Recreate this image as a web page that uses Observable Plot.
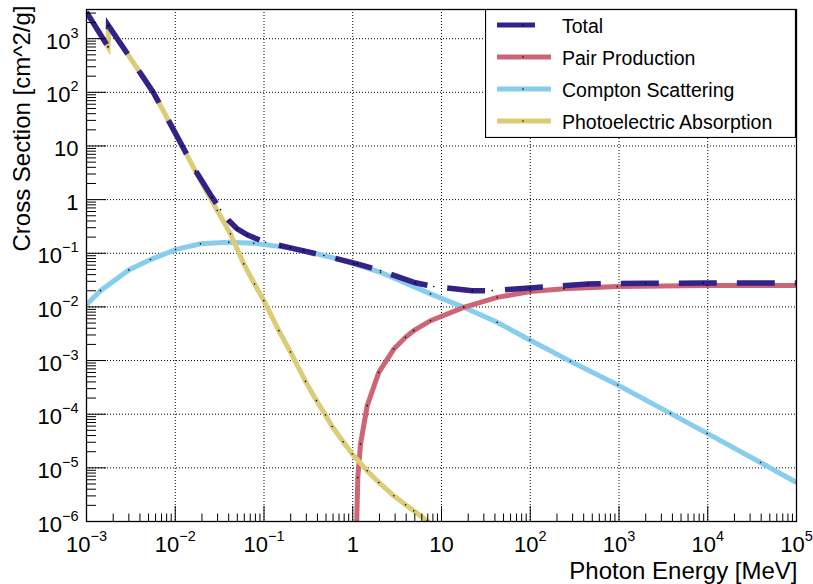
<!DOCTYPE html>
<html><head><meta charset="utf-8">
<script src="https://cdn.jsdelivr.net/npm/d3@7"></script>
<script src="https://cdn.jsdelivr.net/npm/@observablehq/plot@0.6"></script>
<style>
body{margin:0;background:#fff;}
#wrap{position:relative;width:813px;height:584px;font-family:"Liberation Sans",Arial,Helvetica,sans-serif;}
#legend{position:absolute;left:485px;top:9px;}
</style></head><body><div id="wrap"></div>
<script>
// ---- data (photon energy in MeV, cross section in cm^2/g) ----
const photoE = [1e-3, 1.75e-3, 1.77e-3, 5.64e-3, 1.2e-2, 1.69e-2, 2.97e-2, 4.19e-2, 5.92e-2, 7.82e-2, 0.0996, 0.147, 0.199, 0.2935, 0.39, 0.493, 0.586, 0.78, 0.986, 1.455, 1.966, 2.90, 3.93, 4.87, 6.90, 8.5];
const photoS = [3130, 700, 1750, 101, 9.9, 3.36, 0.627, 0.230, 0.0634, 0.0268, 0.0131, 3.61e-3, 1.44e-3, 4.09e-4, 1.79e-4, 9.66e-5, 5.91e-5, 3.07e-5, 1.81e-5, 8.83e-6, 5.34e-6, 3.02e-6, 2.05e-6, 1.58e-6, 1.03e-6, 7.2e-7];

const comptonE = [1e-3, 1.438e-3, 3.0e-3, 5.26e-3, 1.007e-2, 1.925e-2, 4.01e-2, 7.67e-2, 0.1535, 0.2806, 0.668, 1.028, 2.055, 7.52, 17.8, 42.4, 98.9, 284, 969, 3802, 9860, 39300, 1e5];
const comptonS = [0.0110, 0.0201, 0.049, 0.0763, 0.117, 0.150, 0.160, 0.154, 0.133, 0.112, 0.0786, 0.0634, 0.0442, 0.01748, 9.83e-3, 5.16e-3, 2.42e-3, 9.66e-4, 3.51e-4, 1.035e-4, 4.39e-5, 1.26e-5, 5.34e-6];

const pairE = [1.09, 1.14, 1.223, 1.455, 1.966, 2.90, 3.93, 4.87, 7.52, 17.8, 42.4, 100.7, 239, 955, 9860, 1e5];
const pairS = [3e-7, 6.62e-6, 2.78e-5, 1.44e-4, 6.03e-4, 1.64e-3, 2.71e-3, 3.61e-3, 5.54e-3, 9.83e-3, 0.0151, 0.0193, 0.0217, 0.0239, 0.02496, 0.0250];

const totalE = [1e-3, 1.75e-3, 1.77e-3, 5.64e-3, 1.2e-2, 0.0169, 0.0261, 0.0324, 0.0401, 0.0499, 0.0647, 0.104, 0.199, 0.472, 1.122, 2.055, 5.09, 8.19, 22.2, 37.3, 98.9, 445, 1990, 8890, 1e5];
const totalS = [3130, 710, 1750, 101, 10.0, 3.49, 1.1, 0.65, 0.407, 0.285, 0.220, 0.160, 0.126, 0.0906, 0.0634, 0.0475, 0.0282, 0.0239, 0.0201, 0.0201, 0.0226, 0.0268, 0.0275, 0.0278, 0.0278];

const seriesNames = ["Total", "Pair Production", "Compton Scattering", "Photoelectric Absorption"];
const seriesColors = ["#332288", "#CC6677", "#88CCEE", "#DDCC77"];

const xTickValues = [1e-3, 1e-2, 1e-1, 1, 10, 1e2, 1e3, 1e4, 1e5];
const xTickLabels = ["10^\u22123", "10^\u22122", "10^\u22121", "1", "10", "10^2", "10^3", "10^4", "10^5"];
const yTickValues = [1e-6, 1e-5, 1e-4, 1e-3, 1e-2, 1e-1, 1, 10, 1e2, 1e3];
const yTickLabels = ["10^\u22126", "10^\u22125", "10^\u22124", "10^\u22123", "10^\u22122", "10^\u22121", "1", "10", "10^2", "10^3"];
const xTitle = "Photon Energy [MeV]";
const yTitle = "Cross Section [cm^2/g]";

// ---- build ----
const rows = (E, S) => E.map((e, i) => ({E: e, s: S[i]}));
const total = rows(totalE, totalS), pair = rows(pairE, pairS),
      compton = rows(comptonE, comptonS), photo = rows(photoE, photoS);

const W = 813, H = 584, mL = 86, mR = 17, mT = 9, mB = 63;
const pw = W - mL - mR, ph = H - mT - mB;
const xDomain = [1e-3, 1e5], yDomain = [1e-6, 3500];

const minors = (lo, hi) => {
  const out = [];
  for (let d = Math.log10(lo); d < Math.log10(hi); d++)
    for (let k = 2; k <= 9; k++) { const v = k * Math.pow(10, d); if (v < hi) out.push(v); }
  return out;
};
const xMinor = minors(xDomain[0], xDomain[1]);
const yMinor = minors(yDomain[0], yDomain[1]);

const lineOpts = (color, extra = {}) => ({x: "E", y: "s", stroke: color, strokeWidth: 5, clip: true,
  strokeLinejoin: "miter", strokeLinecap: "butt", strokeMiterlimit: 10, ...extra});
const dotOpts = {x: "E", y: "s", r: 0.8, fill: "#000", clip: true};
const gridOpts = {stroke: "#000", strokeOpacity: 1, strokeWidth: 1, strokeDasharray: "1,2"};

const svg = Plot.plot({
  width: W, height: H,
  marginLeft: mL, marginRight: mR, marginTop: mT, marginBottom: mB,
  style: {fontFamily: '"Liberation Sans", Arial, Helvetica, sans-serif', fontSize: "22px", color: "#000", background: "#fff"},
  x: {type: "log", domain: xDomain, label: null},
  y: {type: "log", domain: yDomain, label: null},
  marks: [
    Plot.gridX(xTickValues, gridOpts),
    Plot.gridY(yTickValues, gridOpts),
    Plot.line(compton, lineOpts(seriesColors[2])),
    Plot.line(pair, lineOpts(seriesColors[1])),
    Plot.line(photo, lineOpts(seriesColors[3])),
    Plot.line(total, lineOpts(seriesColors[0], {strokeWidth: 5.5, strokeDasharray: "38,20"})),
    Plot.dot(compton, dotOpts),
    Plot.dot(pair, dotOpts),
    Plot.dot(photo, dotOpts),
    Plot.dot(total, dotOpts),
    Plot.tickX(xMinor, {stroke: "#000", insetTop: ph - 7.5}),
    Plot.tickX(xTickValues, {stroke: "#000", insetTop: ph - 15}),
    Plot.tickY(yMinor, {stroke: "#000", insetRight: pw - 10}),
    Plot.tickY(yTickValues, {stroke: "#000", insetRight: pw - 20}),
    Plot.frame({stroke: "#000", strokeWidth: 1.3}),
    Plot.axisX(xTickValues, {tickSize: 0, tickPadding: 15, fontSize: 22, label: null,
      tickFormat: d => xTickLabels[xTickValues.indexOf(d)]}),
    Plot.axisY(yTickValues, {tickSize: 0, tickPadding: 8, fontSize: 22, label: null, dy: 3,
      tickFormat: d => yTickLabels[yTickValues.indexOf(d)]}),
    Plot.text([xTitle], {frameAnchor: "bottom-right", textAnchor: "end", lineAnchor: "bottom",
      dx: 1, dy: 57.5, fontSize: 24, text: d => d}),
    Plot.text([yTitle], {frameAnchor: "top-left", rotate: -90, textAnchor: "end", lineAnchor: "bottom",
      dx: -57, dy: -4, fontSize: 24, text: d => d})
  ]
});

// superscript exponents in tick labels
d3.select(svg).selectAll("text").each(function () {
  const s = this.textContent;
  const i = s.indexOf("^");
  if (i < 0 || s === yTitle) return;
  while (this.firstChild) this.removeChild(this.firstChild);
  const t = d3.select(this);
  t.append("tspan").text(s.slice(0, i));
  t.append("tspan").attr("dy", -11).attr("font-size", "14.5px").text(s.slice(i + 1));
});

const wrap = document.getElementById("wrap");
wrap.appendChild(svg);

// legend
const lg = d3.create("svg").attr("id", "legend").attr("width", 311).attr("height", 129)
  .style("font-family", '"Liberation Sans", Arial, Helvetica, sans-serif');
lg.append("rect").attr("x", 0.5).attr("y", 0.5).attr("width", 310).attr("height", 128)
  .attr("fill", "#fff").attr("stroke", "#000").attr("stroke-width", 1.2);
seriesNames.forEach((name, i) => {
  const cy = 16 + i * 32;
  lg.append("line").attr("x1", 12).attr("x2", i === 0 ? 50 : 66).attr("y1", cy).attr("y2", cy)
    .attr("stroke", seriesColors[i]).attr("stroke-width", 5);
  lg.append("circle").attr("cx", 38).attr("cy", cy).attr("r", 0.8).attr("fill", "#000");
  lg.append("text").attr("x", 77).attr("y", cy + 7.5).attr("font-size", "19.5px").attr("fill", "#000").text(name);
});
wrap.appendChild(lg.node());
</script></body></html>
